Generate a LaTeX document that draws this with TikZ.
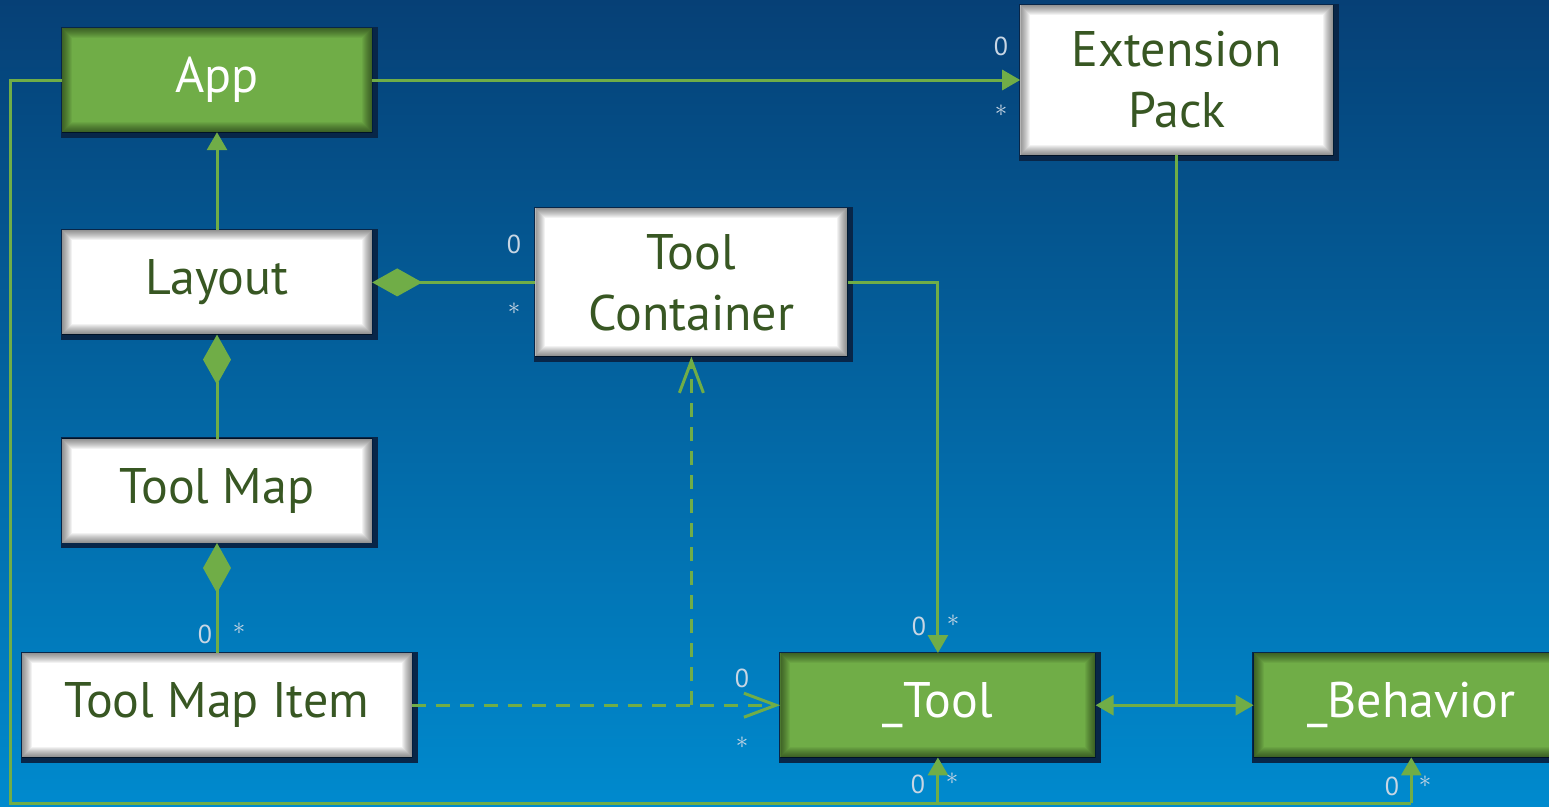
\documentclass[tikz,border=0pt]{standalone}
\usepackage{fontspec}
\setmainfont{PT Sans}
\usetikzlibrary{arrows.meta,positioning,calc}

\definecolor{bgtop}{RGB}{6,64,118}
\definecolor{bgbot}{RGB}{0,138,206}
\definecolor{umlgreen}{RGB}{112,173,71}
\definecolor{textgreen}{RGB}{56,87,35}
\definecolor{shade}{RGB}{8,38,72}
\definecolor{multcol}{RGB}{200,214,228}

\tikzset{
  box/.style={rectangle, inner sep=0pt, minimum width=310pt, minimum height=104pt,
    align=center, font=\fontsize{50}{61}\selectfont,
    preaction={fill=shade, draw=shade, line width=7pt,
      transform canvas={xshift=2pt,yshift=-2pt}},
    path picture={\foreach \k in {1,...,10}
      \draw[black, opacity=0.05, line width={2pt*\k}]
        (path picture bounding box.south west) rectangle
        (path picture bounding box.north east);}},
  whitebox/.style={box, fill=white, text=textgreen},
  greenbox/.style={box, fill=umlgreen, text=white},
  mult/.style={anchor=base, inner sep=0pt, text=multcol,
    font=\fontsize{26}{26}\selectfont},
  multstar/.style={mult, anchor=north, font=\fontsize{24}{24}\selectfont},
  line/.style={draw=umlgreen, line width=3pt},
  assoc/.style={line, -{Triangle[length=18pt,width=20pt]}},
  compo/.style={line, -{Diamond[length=50pt,width=28pt]}},
  dep/.style={line, dash pattern=on 14pt off 10pt,
    -{Straight Barb[length=32pt,width=24pt,line width=3pt]}}
}

\begin{document}
\begin{tikzpicture}[x=1pt,y=-1pt]
  \useasboundingbox (0,0) rectangle (1549,806);
  \fill[top color=bgtop, bottom color=bgbot] (0,0) rectangle (1549,806);
  \clip (0,0) rectangle (1549,806);

  % classes
  \node[greenbox] (app) at (217,80) {App};
  \node[whitebox] (layout) [below=98pt of app] {Layout};
  \node[whitebox] (toolmap) [below=104pt of layout] {Tool Map};
  \node[whitebox, minimum width=390pt] (toolmapitem) [below=110pt of toolmap] {Tool Map Item};
  \node[whitebox, minimum width=312pt, minimum height=148pt] (toolcont) [right=163pt of layout] {Tool\\Container};
  \node[whitebox, minimum width=313pt, minimum height=150pt] (extpack) [right=648pt of app] {Extension\\Pack};
  \node[greenbox, minimum width=315pt] (tool) [right=368pt of toolmapitem] {\_Tool};
  \node[greenbox, minimum width=315pt] (behavior) [right=158pt of tool] {\_Behavior};

  \coordinate (split) at (extpack.south |- tool.east);
  \coordinate (fork) at (toolcont.south |- tool.west);
  \coordinate (rail) at (10,803);

  % connectors
  \draw[assoc] (app) -- (extpack);
  \draw[assoc] (layout) -- (app);
  \draw[compo] (toolcont) -- (layout);
  \draw[compo] (toolmap) -- (layout);
  \draw[compo] (toolmapitem) -- (toolmap);
  \draw[assoc] (toolcont.east) -| (tool.north);
  \draw[dep] (toolmapitem) -- (tool);
  \draw[dep] (fork) -- (toolcont);
  \draw[line] (extpack) -- (split);
  \draw[assoc] (split) -- (tool);
  \draw[assoc] (split) -- (behavior);
  \draw[line] (app.west) -| (rail) -- (rail -| behavior.south);
  \draw[assoc] (rail -| tool.south) -- (tool.south);
  \draw[assoc] (rail -| behavior.south) -- (behavior.south);

  % multiplicities
  \node[mult] (m1a) at (1001,55) {0};
  \node[multstar] (m1b) at (1001,105) {$\ast$};
  \node[mult] (m2a) at (514,253) {0};
  \node[multstar] (m2b) at (514,303) {$\ast$};
  \node[mult] (m3a) at (205,643) {0};
  \node[multstar] (m3b) at (239,623) {$\ast$};
  \node[mult] (m4a) at (919,635) {0};
  \node[multstar] (m4b) at (953,615) {$\ast$};
  \node[mult] (m5a) at (742,687) {0};
  \node[multstar] (m5b) at (742,737) {$\ast$};
  \node[mult] (m6a) at (918,793) {0};
  \node[multstar] (m6b) at (952,773) {$\ast$};
  \node[mult] (m7a) at (1392,795) {0};
  \node[multstar] (m7b) at (1425,776) {$\ast$};
\end{tikzpicture}
\end{document}
